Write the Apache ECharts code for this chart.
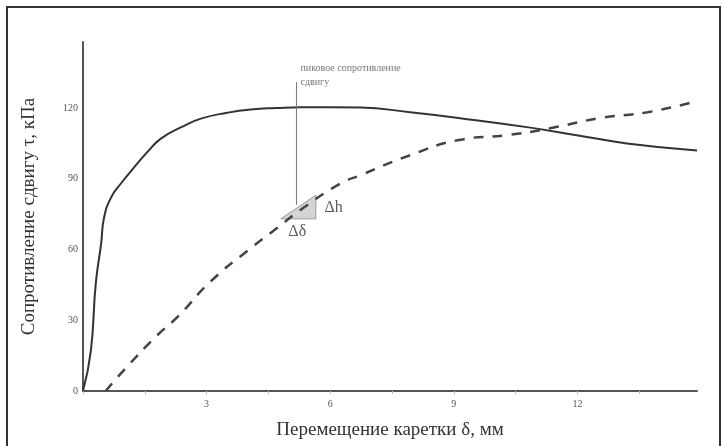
<!DOCTYPE html>
<html><head><meta charset="utf-8">
<script src="https://cdn.jsdelivr.net/npm/echarts@6/dist/echarts.min.js"></script>
<style>html,body{margin:0;padding:0;background:#fff}#c{width:725px;height:446px}</style>
</head><body><div id="c"></div>
<script>
// Solid curve (peak-type)
const solidX = [0, 0.19, 0.31, 0.44, 0.51, 0.68, 0.92, 1.23, 1.57, 1.89, 2.4, 2.86, 3.5, 4.07, 4.7, 5.3, 6.0, 6.73, 7.94, 9.15, 10.77, 11.98, 13.2, 14.9];
const solidY = [0, 17, 45.6, 62.5, 73.5, 82, 88, 94.6, 101.5, 107, 112, 115.5, 118, 119.4, 120, 120.3, 120.3, 120.2, 118.2, 115.7, 111.9, 108.5, 105, 102];
// Dashed curve
const dashX = [0.55, 1.0, 1.8, 2.3, 3.1, 4.0, 4.7, 5.35, 6.25, 6.73, 7.94, 9.08, 10.3, 11.33, 12.54, 13.7, 14.8];
const dashY = [0, 9, 23.6, 31.5, 46.5, 59.6, 69, 77.7, 88, 91.5, 100, 106.3, 108.5, 111.4, 115.7, 118.2, 122.5];
// Annotation: peak line, triangle
const peakLineX = [5.18, 5.18];
const peakLineY = [79, 131];
const peakText = ['пиковое сопротивление', 'сдвигу'];
const triX = [4.8, 5.65, 5.65];
const triY = [73, 73, 83];
const dLabels = [{t: 'Δh', x: 6.08, y: 77.5}, {t: 'Δδ', x: 5.2, y: 67.5}];
const xTicks = [0, 3, 6, 9, 12];
const yTicks = [0, 30, 60, 90, 120];

const F = 'Liberation Serif';
const zip = (a, b) => a.map((v, i) => [v, b[i]]);
const chart = echarts.init(document.getElementById('c'));
chart.setOption({
  backgroundColor: '#fff',
  animation: false,
  grid: {left: 83, top: 42, right: 28, bottom: 55},
  xAxis: {
    type: 'value', min: 0, max: 14.9, interval: 1.5,
    name: 'Перемещение каретки δ, мм', nameLocation: 'middle', nameGap: 30,
    nameTextStyle: {fontFamily: F, fontSize: 19, color: '#333'},
    axisLine: {lineStyle: {color: '#555', width: 2}},
    axisTick: {show: true, length: 3, lineStyle: {color: '#bbb'}},
    splitLine: {show: false},
    axisLabel: {fontFamily: F, fontSize: 10, color: '#555', margin: 8, showMaxLabel: false,
      formatter: v => (xTicks.indexOf(v) > 0 ? String(v) : '')}
  },
  yAxis: {
    type: 'value', min: 0, max: 148, interval: 30,
    name: 'Сопротивление сдвигу τ, кПа', nameLocation: 'middle', nameGap: 44,
    nameTextStyle: {fontFamily: F, fontSize: 19, color: '#333'},
    axisLine: {show: true, lineStyle: {color: '#555', width: 2}},
    axisTick: {show: false},
    splitLine: {show: false},
    axisLabel: {fontFamily: F, fontSize: 10, color: '#555', margin: 5, showMaxLabel: false,
      formatter: v => (yTicks.indexOf(v) >= 0 ? String(v) : '')}
  },
  graphic: [{type: 'rect', shape: {x: 7, y: 7, width: 713, height: 460},
    style: {fill: 'none', stroke: '#333', lineWidth: 2}, silent: true}],
  series: [
    {type: 'line', data: zip(solidX, solidY), smooth: 0.5, symbol: 'none',
     lineStyle: {color: '#333', width: 2}},
    {type: 'line', data: zip(dashX, dashY), smooth: 0.5, symbol: 'none',
     lineStyle: {color: '#444', width: 2.5, type: [10, 9]}},
    {type: 'line', data: zip(peakLineX, peakLineY), symbol: 'none',
     lineStyle: {color: '#777', width: 1}},
    {type: 'custom', renderItem: (params, api) => {
        const pts = triX.map((x, i) => api.coord([x, triY[i]]));
        return {type: 'polygon', shape: {points: pts}, style: {fill: '#d4d4d4', stroke: '#999', lineWidth: 1}};
      }, data: [[0, 0]], z: 1},
    {type: 'scatter', symbolSize: 0, data: [[peakLineX[1], peakLineY[1]]],
     label: {show: true, position: 'right', distance: 4, offset: [0, -7], formatter: peakText.join('\n'),
       fontFamily: F, fontSize: 10, lineHeight: 14, color: '#555'}},
    {type: 'scatter', symbolSize: 0, data: dLabels.map(d => ({value: [d.x, d.y], name: d.t})),
     label: {show: true, position: 'inside', formatter: p => p.name,
       fontFamily: F, fontSize: 16, color: '#333'}}
  ]
});
</script></body></html>
